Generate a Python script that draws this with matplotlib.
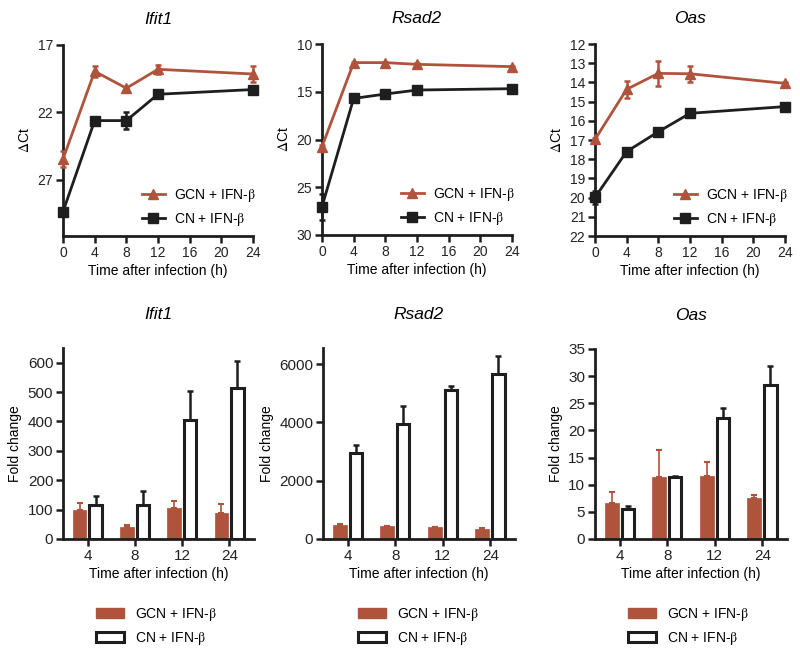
import numpy as np
import matplotlib
matplotlib.use('Agg')
import matplotlib.pyplot as plt
from matplotlib.patches import Patch
from matplotlib.lines import Line2D

plt.rcParams['font.family'] = ['Liberation Sans', 'DejaVu Sans']
plt.rcParams['mathtext.fontset'] = 'stix'

red = '#b0533c'
blk = '#1e1e1e'
lab_gcn = r'GCN + IFN-$\mathrm{\beta}$'
lab_cn = r'CN + IFN-$\mathrm{\beta}$'

#######################################
# data: delta Ct time courses (top row)
#######################################
times = [0, 4, 8, 12, 24]

ifit1_gcn = [25.45, 18.95, 20.2, 18.8, 19.15]
ifit1_gcn_err = [0.6, 0.4, 0.1, 0.35, 0.6]
ifit1_cn = [29.35, 22.6, 22.6, 20.65, 20.3]
ifit1_cn_err = [0.2, 0.25, 0.65, 0.2, 0.15]

rsad2_gcn = [20.75, 11.95, 11.95, 12.13, 12.37]
rsad2_gcn_err = [0.15, 0.1, 0.1, 0.1, 0.1]
rsad2_cn = [27.03, 15.7, 15.24, 14.82, 14.68]
rsad2_cn_err = [1.35, 0.15, 0.15, 0.15, 0.1]

oas_gcn = [16.97, 14.36, 13.53, 13.55, 14.05]
oas_gcn_err = [0.1, 0.45, 0.65, 0.42, 0.05]
oas_cn = [19.99, 17.6, 16.57, 15.61, 15.26]
oas_cn_err = [0.32, 0.1, 0.1, 0.1, 0.1]

#######################################
# data: fold change bars (bottom row)
#######################################
bar_times = ['4', '8', '12', '24']

ifit1_fc_gcn = [100, 42, 107, 88]
ifit1_fc_gcn_err = [24, 6, 23, 30]
ifit1_fc_cn = [115, 115, 405, 515]
ifit1_fc_cn_err = [33, 49, 97, 90]

rsad2_fc_gcn = [470, 435, 412, 355]
rsad2_fc_gcn_err = [35, 12, 12, 12]
rsad2_fc_cn = [2955, 3940, 5097, 5659]
rsad2_fc_cn_err = [275, 630, 160, 630]

oas_fc_gcn = [6.64, 11.44, 11.56, 7.56]
oas_fc_gcn_err = [2.1, 5.0, 2.65, 0.5]
oas_fc_cn = [5.53, 11.44, 22.2, 28.4]
oas_fc_cn_err = [0.6, 0.25, 2.0, 3.45]


W, H = 800., 653.
def rect(x0, y0, x1, y1):
  # pixel box -> figure fraction
  return [x0/W, 1 - y1/H, (x1 - x0)/W, (y1 - y0)/H]


def style_axes(ax, labelsize):
  for s in ['top', 'right']:
    ax.spines[s].set_visible(False)
  for s in ['left', 'bottom']:
    ax.spines[s].set_linewidth(2.0)
    ax.spines[s].set_color(blk)
  ax.tick_params(axis='both', direction='out', length=5, width=1.8, color=blk,
                 labelsize=labelsize, pad=2, labelcolor='#222222')


def plot_ct(ax, title, gcn, gcn_err, cn, cn_err, ylim, yticks):
  ax.errorbar(times, gcn, yerr=gcn_err, color=red, marker='^', markersize=7,
              lw=2.0, capsize=2.5, capthick=1.8, elinewidth=1.8, clip_on=False, zorder=3)
  ax.errorbar(times, cn, yerr=cn_err, color=blk, marker='s', markersize=7,
              lw=2.0, capsize=2.5, capthick=1.8, elinewidth=1.8, clip_on=False, zorder=4)
  ax.set_xlim(0, 24)
  ax.set_xticks([0, 4, 8, 12, 16, 20, 24])
  ax.set_ylim(ylim)
  ax.set_yticks(yticks)
  ax.set_xlabel('Time after infection (h)', fontsize=10, labelpad=3)
  ax.set_ylabel(r'$\Delta$Ct', fontsize=10, labelpad=4)
  ax.set_title(title, fontsize=12.5, style='italic', pad=15)
  style_axes(ax, 10)
  h1 = Line2D([], [], color=red, marker='^', markersize=7, lw=2.0)
  h2 = Line2D([], [], color=blk, marker='s', markersize=7, lw=2.0)
  ax.legend([h1, h2], [lab_gcn, lab_cn], loc='lower right', bbox_to_anchor=(1.08, -0.025),
            frameon=False, fontsize=10, handlelength=1.7, handletextpad=0.6, labelspacing=0.5)


def plot_fc(ax, title, gcn, gcn_err, cn, cn_err, ylim, yticks, legx):
  x = np.arange(len(bar_times))
  w = 0.29
  ax.bar(x - 0.17, gcn, width=w, color=red, edgecolor=red, lw=0.5, zorder=2)
  ax.errorbar(x - 0.17, gcn, yerr=[np.zeros(len(gcn)), gcn_err], fmt='none',
              ecolor=red, elinewidth=1.2, capsize=2.5, capthick=1.5, zorder=1)
  ax.bar(x + 0.17, cn, width=w - 0.03, color='white', edgecolor=blk, lw=2.2, zorder=2)
  ax.errorbar(x + 0.17, cn, yerr=[np.zeros(len(cn)), cn_err], fmt='none',
              ecolor=blk, elinewidth=1.8, capsize=2.5, capthick=1.8, zorder=1)
  ax.set_xlim(-0.52, 3.52)
  ax.set_xticks(x)
  ax.set_xticklabels(bar_times)
  ax.set_ylim(ylim)
  ax.set_yticks(yticks)
  ax.set_xlabel('Time after infection (h)', fontsize=10, labelpad=3)
  ax.set_ylabel('Fold change', fontsize=10, labelpad=4)
  ax.set_title(title, fontsize=12.5, style='italic', pad=21)
  style_axes(ax, 11)
  p1 = Patch(facecolor=red, edgecolor=red)
  p2 = Patch(facecolor='white', edgecolor=blk, lw=2.2)
  fig.legend([p1, p2], [lab_gcn, lab_cn], loc='center', bbox_to_anchor=(legx, 0.041),
             frameon=False, fontsize=10, handlelength=2.0, handleheight=0.8,
             handletextpad=0.8, labelspacing=0.5)


fig = plt.figure(figsize=(8, 6.53), dpi=100)

ax1 = fig.add_axes(rect(63, 45, 253, 236))
plot_ct(ax1, 'Ifit1', ifit1_gcn, ifit1_gcn_err, ifit1_cn, ifit1_cn_err, (31.15, 17), [17, 22, 27])
ax2 = fig.add_axes(rect(322, 44, 512, 235))
plot_ct(ax2, 'Rsad2', rsad2_gcn, rsad2_gcn_err, rsad2_cn, rsad2_cn_err, (30, 10), [10, 15, 20, 25, 30])
ax3 = fig.add_axes(rect(595, 44, 785, 236))
plot_ct(ax3, 'Oas', oas_gcn, oas_gcn_err, oas_cn, oas_cn_err, (22, 12), np.arange(12, 23))

ax4 = fig.add_axes(rect(63, 348, 254, 539))
plot_fc(ax4, 'Ifit1', ifit1_fc_gcn, ifit1_fc_gcn_err, ifit1_fc_cn, ifit1_fc_cn_err,
        (0, 650), np.arange(0, 601, 100), 0.196)
ax5 = fig.add_axes(rect(323, 348, 515, 539))
plot_fc(ax5, 'Rsad2', rsad2_fc_gcn, rsad2_fc_gcn_err, rsad2_fc_cn, rsad2_fc_cn_err,
        (0, 6550), [0, 2000, 4000, 6000], 0.523)
ax6 = fig.add_axes(rect(595, 349, 787, 539))
plot_fc(ax6, 'Oas', oas_fc_gcn, oas_fc_gcn_err, oas_fc_cn, oas_fc_cn_err,
        (0, 35), np.arange(0, 36, 5), 0.861)

plt.savefig('out.png', dpi=100)
